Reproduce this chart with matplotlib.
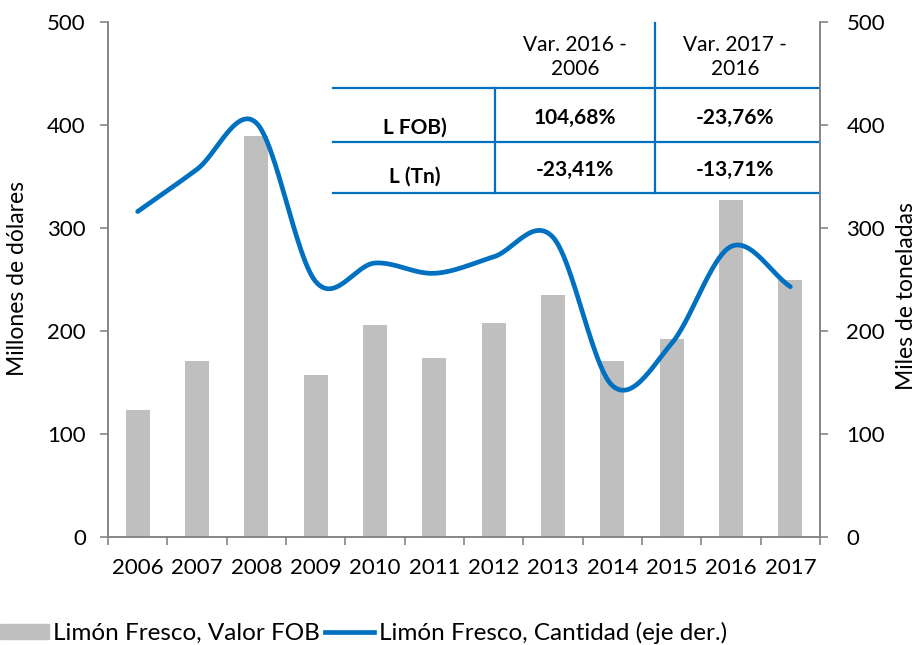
import numpy as np
import matplotlib
matplotlib.use("Agg")
import matplotlib.pyplot as plt
from matplotlib.lines import Line2D
from matplotlib.patches import Patch

plt.rcParams['font.family'] = ['Lato', 'DejaVu Sans']

years = ['2006', '2007', '2008', '2009', '2010', '2011', '2012', '2013', '2014', '2015', '2016', '2017']
valor_fob = [123, 171, 389, 157, 206, 174, 208, 235, 171, 192, 327, 250]
cantidad = [316, 357, 402, 248, 266, 256, 272, 291, 147, 188, 282, 243]

tabla_cols = ['Var. 2016 -\n2006', 'Var. 2017 -\n2016']
tabla_filas = ['L FOB)', 'L (Tn)']
tabla_vals = [['104,68%', '-23,76%'], ['-23,41%', '-13,71%']]

gris = '#BFBFBF'
azul = '#0070C0'
eje = '#868686'


def suavizar(x, y, n=30):
    # catmull-rom, parecido al suavizado de Excel
    x = np.asarray(x, float)
    y = np.asarray(y, float)
    px = np.concatenate([[2 * x[0] - x[1]], x, [2 * x[-1] - x[-2]]])
    py = np.concatenate([[2 * y[0] - y[1]], y, [2 * y[-1] - y[-2]]])
    xs, ys = [], []
    t = np.linspace(0, 1, n)
    for i in range(1, len(px) - 2):
        for p, out in ((px, xs), (py, ys)):
            p0, p1, p2, p3 = p[i - 1], p[i], p[i + 1], p[i + 2]
            out.extend(0.5 * (2 * p1 + (-p0 + p2) * t + (2 * p0 - 5 * p1 + 4 * p2 - p3) * t ** 2
                              + (-p0 + 3 * p1 - 3 * p2 + p3) * t ** 3))
    return np.array(xs), np.array(ys)


W, H = 920, 645
fig = plt.figure(figsize=(W / 100, H / 100), dpi=100)
ax = fig.add_axes([108 / W, 1 - 537 / H, (820 - 108) / W, (537 - 22) / H])
ax2 = ax.twinx()

x = np.arange(len(years))
ax.bar(x, valor_fob, width=0.4, color=gris, zorder=2)
sx, sy = suavizar(x, cantidad)
ax2.plot(sx, sy, color=azul, lw=3.4, solid_capstyle='round', zorder=3)

for a in (ax, ax2):
    a.set_ylim(0, 500)
    a.set_yticks(range(0, 501, 100))
    a.set_xlim(-0.5, len(years) - 0.5)
    a.spines['top'].set_visible(False)
    for s in ('left', 'right', 'bottom'):
        a.spines[s].set_color(eje)
        a.spines[s].set_linewidth(1.2)
    a.tick_params(axis='both', colors=eje, labelcolor='black', labelsize=16, length=6, width=1.2)
ax.tick_params(axis='y', pad=10)
ax2.tick_params(axis='y', pad=13)

ax.set_xticks(x)
ax.set_xticklabels(years)
ax.set_xticks(np.arange(-0.5, len(years), 1), minor=True)
ax.tick_params(axis='x', which='major', length=0, pad=15)
ax.tick_params(axis='x', which='minor', length=6, width=1.2, color=eje)
ax.set_zorder(ax2.get_zorder() - 1)
ax2.patch.set_visible(False)


def fx(v):
    return v / W


def fy(v):
    return 1 - v / H


fig.text(fx(18), fy(278), 'Millones de dólares', rotation=90, ha='center', va='center', fontsize=16.5)
fig.text(fx(907), fy(296), 'Miles de toneladas', rotation=90, ha='center', va='center', fontsize=16.5)

# tabla superpuesta
for yy in (88, 142, 193):
    fig.add_artist(Line2D([fx(333), fx(818)], [fy(yy), fy(yy)], color=azul, lw=1.6))
fig.add_artist(Line2D([fx(495), fx(495)], [fy(88), fy(193)], color=azul, lw=1.6))
fig.add_artist(Line2D([fx(655), fx(655)], [fy(23), fy(193)], color=azul, lw=1.6))

col_x = [575, 735]
for cx, txt in zip(col_x, tabla_cols):
    fig.text(fx(cx), fy(57), txt, ha='center', va='center', fontsize=15, linespacing=1.25)
fila_y = [(128, 118), (177, 170)]
for (ly, vy), nombre, vals in zip(fila_y, tabla_filas, tabla_vals):
    fig.text(fx(415), fy(ly), nombre, ha='center', va='center', fontsize=15, fontweight='bold')
    for cx, v in zip(col_x, vals):
        fig.text(fx(cx), fy(vy), v, ha='center', va='center', fontsize=15, fontweight='bold')

handles = [Patch(color=gris), Line2D([0], [0], color=azul, lw=3.4)]
fig.legend(handles, ['Limón Fresco, Valor FOB', 'Limón Fresco, Cantidad (eje der.)'],
           loc='center left', bbox_to_anchor=(0, fy(633)), ncol=2, frameon=False,
           fontsize=17.5, handlelength=2.0, handleheight=0.6, handletextpad=0.2,
           columnspacing=0.2, borderaxespad=0, borderpad=0)

fig.savefig('out.png', dpi=100)
